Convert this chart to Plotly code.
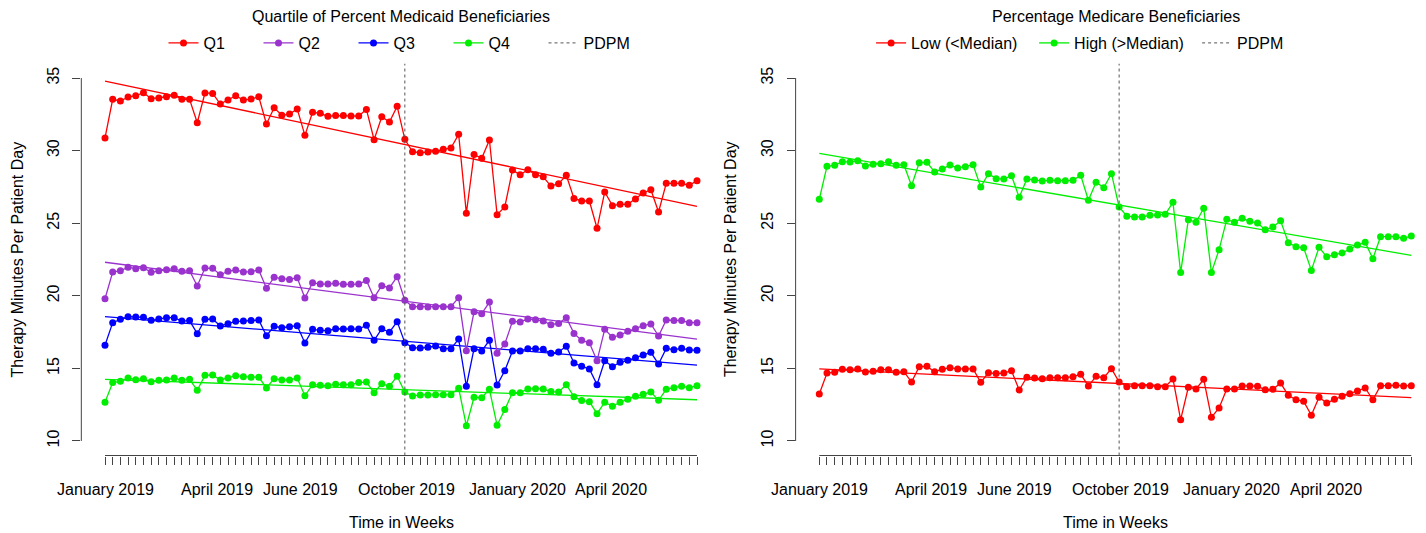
import plotly.graph_objects as go

# ---------------- data ----------------
weeks = list(range(1, 79))
pdpm_week = 40

month_labels = ["January 2019", "April 2019", "June 2019", "October 2019", "January 2020", "April 2020"]
month_label_weeks = [1, 15.55, 26.4, 40.2, 54.6, 66.85]

q1 = [30.87, 33.53, 33.42, 33.69, 33.78, 33.99, 33.58, 33.62, 33.71, 33.81,
      33.53, 33.53, 31.92, 33.97, 33.94, 33.21, 33.48, 33.78, 33.48, 33.55,
      33.71, 31.83, 32.95, 32.43, 32.52, 32.87, 31.05, 32.64, 32.57, 32.36,
      32.41, 32.41, 32.38, 32.38, 32.84, 30.75, 32.33, 31.97, 33.05, 30.78,
      29.92, 29.86, 29.90, 29.95, 30.09, 30.18, 31.12, 25.68, 29.74, 29.47,
      30.73, 25.59, 26.12, 28.66, 28.34, 28.68, 28.34, 28.20, 27.56, 27.72,
      28.30, 26.71, 26.53, 26.53, 24.65, 27.15, 26.21, 26.30, 26.30, 26.67,
      27.08, 27.31, 25.77, 27.75, 27.75, 27.75, 27.61, 27.93]
q2 = [19.80, 21.64, 21.73, 21.96, 21.87, 21.94, 21.62, 21.73, 21.80, 21.87,
      21.69, 21.73, 20.67, 21.91, 21.89, 21.45, 21.69, 21.78, 21.64, 21.66,
      21.78, 20.52, 21.27, 21.18, 21.13, 21.25, 19.85, 20.90, 20.81, 20.81,
      20.86, 20.79, 20.79, 20.81, 21.06, 19.87, 20.70, 20.54, 21.32, 19.69,
      19.25, 19.25, 19.23, 19.25, 19.25, 19.25, 19.87, 16.22, 18.90, 18.77,
      19.57, 16.04, 16.68, 18.24, 18.20, 18.40, 18.35, 18.26, 18.01, 18.10,
      18.49, 17.41, 16.93, 16.77, 15.53, 17.69, 17.14, 17.30, 17.55, 17.73,
      17.94, 18.06, 17.23, 18.33, 18.29, 18.29, 18.15, 18.15]
q3 = [16.59, 18.15, 18.38, 18.56, 18.54, 18.52, 18.31, 18.40, 18.49, 18.49,
      18.26, 18.29, 17.39, 18.38, 18.40, 17.92, 18.08, 18.24, 18.26, 18.29,
      18.33, 17.25, 17.90, 17.80, 17.87, 17.94, 16.75, 17.69, 17.62, 17.60,
      17.73, 17.71, 17.73, 17.71, 17.97, 16.93, 17.73, 17.49, 18.22, 16.77,
      16.43, 16.40, 16.45, 16.54, 16.36, 16.36, 17.02, 13.77, 16.36, 16.20,
      16.93, 13.86, 14.84, 16.20, 16.20, 16.36, 16.36, 16.31, 16.04, 16.13,
      16.52, 15.37, 15.14, 14.96, 13.88, 15.53, 15.12, 15.42, 15.56, 15.74,
      15.92, 16.11, 15.30, 16.38, 16.29, 16.38, 16.27, 16.25]
q4 = [12.67, 14.02, 14.11, 14.34, 14.22, 14.29, 14.08, 14.18, 14.20, 14.34,
      14.18, 14.25, 13.49, 14.52, 14.55, 14.20, 14.34, 14.50, 14.43, 14.39,
      14.39, 13.65, 14.29, 14.20, 14.20, 14.34, 13.12, 13.88, 13.84, 13.81,
      13.90, 13.88, 13.88, 14.02, 14.06, 13.33, 13.95, 13.77, 14.46, 13.37,
      13.10, 13.17, 13.17, 13.19, 13.19, 13.19, 13.63, 11.05, 13.01, 12.98,
      13.56, 11.08, 12.16, 13.33, 13.33, 13.58, 13.60, 13.58, 13.40, 13.37,
      13.88, 13.05, 12.78, 12.71, 11.88, 12.67, 12.39, 12.67, 12.87, 13.08,
      13.22, 13.37, 12.80, 13.56, 13.67, 13.77, 13.67, 13.81]
low = [13.24, 14.68, 14.73, 14.94, 14.91, 14.96, 14.75, 14.80, 14.91, 14.91,
       14.73, 14.77, 14.06, 15.12, 15.14, 14.77, 14.94, 15.05, 14.96, 14.96,
       14.96, 14.04, 14.70, 14.64, 14.68, 14.84, 13.51, 14.39, 14.34, 14.29,
       14.36, 14.36, 14.36, 14.43, 14.59, 13.79, 14.45, 14.36, 14.98, 14.06,
       13.74, 13.81, 13.81, 13.81, 13.74, 13.74, 14.27, 11.47, 13.70, 13.58,
       14.25, 11.63, 12.27, 13.58, 13.58, 13.79, 13.79, 13.77, 13.53, 13.56,
       13.99, 13.15, 12.84, 12.73, 11.77, 13.01, 12.62, 12.87, 13.08, 13.26,
       13.44, 13.65, 12.84, 13.81, 13.81, 13.84, 13.79, 13.81]
high = [26.65, 28.92, 28.99, 29.24, 29.21, 29.30, 28.94, 29.06, 29.10, 29.24,
        28.99, 29.03, 27.58, 29.17, 29.19, 28.53, 28.73, 29.01, 28.80, 28.89,
        29.03, 27.49, 28.41, 28.07, 28.04, 28.27, 26.78, 28.04, 27.98, 27.91,
        27.95, 27.93, 27.93, 27.95, 28.30, 26.58, 27.82, 27.45, 28.41, 26.12,
        25.48, 25.43, 25.43, 25.54, 25.56, 25.61, 26.44, 21.60, 25.24, 25.06,
        26.03, 21.60, 23.18, 25.27, 25.06, 25.34, 25.13, 25.01, 24.55, 24.74,
        25.17, 23.66, 23.38, 23.31, 21.75, 23.34, 22.69, 22.83, 22.95, 23.22,
        23.50, 23.68, 22.56, 24.07, 24.07, 24.07, 23.96, 24.12]

# fitted trend lines (value at first week, value at last week)
trend_q1 = [34.79, 26.16]
trend_q2 = [22.31, 17.02]
trend_q3 = [18.56, 15.23]
trend_q4 = [14.25, 12.84]
trend_low = [14.96, 12.98]
trend_high = [29.81, 22.79]

y_ticks = [10, 15, 20, 25, 30, 35]
y_lim = [10, 35]

left_series = [("Q1", q1, trend_q1, "#FF0000"),
               ("Q2", q2, trend_q2, "#9A32CD"),
               ("Q3", q3, trend_q3, "#0000FF"),
               ("Q4", q4, trend_q4, "#00EE00")]
right_series = [("Low (<Median)", low, trend_low, "#FF0000"),
                ("High (>Median)", high, trend_high, "#00EE00")]

# ---------------- figure ----------------
VW, VH = 1426, 533          # browser window
OFF = 8                     # default page body margin
W, H = VW - OFF, VH - OFF   # figure size
FONT = "Liberation Sans, Arial, Helvetica, sans-serif"
FS = 16
AXC = "#444444"


def xp(px):
    return (px - OFF) / W


def yp(py):
    return (H - (py - OFF)) / H


fig = go.Figure()
trend_x = [weeks[0], weeks[-1]]


def add_panel(series, xa, ya, legend_name):
    for name, vals, tr, col in series:
        fig.add_trace(go.Scatter(x=trend_x, y=tr, mode="lines",
                                 line=dict(color=col, width=1.3),
                                 xaxis=xa, yaxis=ya, showlegend=False,
                                 hoverinfo="skip"))
    for name, vals, tr, col in series:
        fig.add_trace(go.Scatter(x=weeks, y=vals, mode="lines+markers", name=name,
                                 line=dict(color=col, width=1.3),
                                 marker=dict(color=col, size=7),
                                 xaxis=xa, yaxis=ya, legend=legend_name))
    fig.add_trace(go.Scatter(x=[pdpm_week, pdpm_week], y=[y_lim[0] - 1, y_lim[1] + 1],
                             mode="lines", name="PDPM",
                             line=dict(color="#555555", width=1, dash="dot"),
                             xaxis=xa, yaxis=ya, legend=legend_name))


add_panel(left_series, "x", "y", "legend")
add_panel(right_series, "x2", "y2", "legend2")

pxw = 592 / 77.0
pad = 0.04 * (weeks[-1] - weeks[0])
xl_left = 105 - pad * pxw
xl_right = 105 + (weeks[-1] - weeks[0] + pad) * pxw
xr_left = 819.3 - pad * pxw
xr_end = weeks[0] + (VW - 819.3) / pxw

ydom = [yp(455.5), yp(63.5)]

xcommon = dict(tickmode="array", tickvals=weeks, showticklabels=False,
               ticks="outside", ticklen=8, tickwidth=1, tickcolor=AXC,
               showgrid=False, zeroline=False, showline=False)
ycommon = dict(tickmode="array", tickvals=y_ticks, ticks="outside", ticklen=8,
               tickwidth=1, tickcolor=AXC, tickangle=-90, ticklabelstandoff=7,
               tickfont=dict(size=FS, color="#000"), showgrid=False,
               zeroline=False, showline=False, range=[y_lim[0] - 1, y_lim[1] + 1],
               domain=ydom)

fig.update_layout(
    width=W, height=H, autosize=False,
    margin=dict(l=0, r=0, t=0, b=0),
    paper_bgcolor="white", plot_bgcolor="white",
    font=dict(family=FONT, size=FS, color="#000"),
    xaxis=dict(domain=[xp(xl_left), xp(xl_right)],
               range=[weeks[0] - pad, weeks[-1] + pad], anchor="y", **xcommon),
    yaxis=dict(anchor="x", **ycommon),
    xaxis2=dict(domain=[xp(xr_left), 1.0],
                range=[weeks[0] - pad, xr_end], anchor="y2", **xcommon),
    yaxis2=dict(anchor="x2", **ycommon),
    legend=dict(orientation="h", x=xp(401), xanchor="center", y=yp(43),
                yanchor="middle", font=dict(size=FS), entrywidth=50,
                itemwidth=30, bgcolor="rgba(0,0,0,0)", traceorder="normal"),
    legend2=dict(orientation="h", x=xp(1115.6), xanchor="center", y=yp(43),
                 yanchor="middle", font=dict(size=FS), entrywidth=118,
                 itemwidth=30, bgcolor="rgba(0,0,0,0)", traceorder="normal"),
    showlegend=True,
)

shapes = []
for xa, ya in (("x", "y"), ("x2", "y2")):
    shapes.append(dict(type="line", xref=xa, yref=ya + " domain",
                       x0=weeks[0], x1=weeks[-1], y0=0, y1=0,
                       line=dict(color=AXC, width=1)))
    shapes.append(dict(type="line", xref=xa + " domain", yref=ya,
                       x0=0, x1=0, y0=y_lim[0], y1=y_lim[1],
                       line=dict(color=AXC, width=1)))
fig.update_layout(shapes=shapes)

ann = []
panel_centers = [xp(401), xp(1115.6)]
titles = ["Quartile of Percent Medicaid Beneficiaries", "Percentage Medicare Beneficiaries"]
for cx, t in zip(panel_centers, titles):
    ann.append(dict(text=t, x=cx, y=yp(17), xref="paper", yref="paper",
                    showarrow=False, xanchor="center", yanchor="middle",
                    font=dict(size=FS)))
    ann.append(dict(text="Time in Weeks", x=cx, y=yp(522), xref="paper",
                    yref="paper", showarrow=False, xanchor="center",
                    yanchor="middle", font=dict(size=FS)))
for xpx in (17, 730.6):
    ann.append(dict(text="Therapy Minutes Per Patient Day", x=xp(xpx),
                    y=yp(259.5), xref="paper", yref="paper",
                    showarrow=False, textangle=-90, xanchor="center",
                    yanchor="middle", font=dict(size=FS)))
for xa in ("x", "x2"):
    for lab, wk in zip(month_labels, month_label_weeks):
        ann.append(dict(text=lab, x=wk, y=yp(489), xref=xa, yref="paper",
                        showarrow=False, xanchor="center", yanchor="middle",
                        font=dict(size=FS)))
fig.update_layout(annotations=ann)

fig.write_html("out.html")
